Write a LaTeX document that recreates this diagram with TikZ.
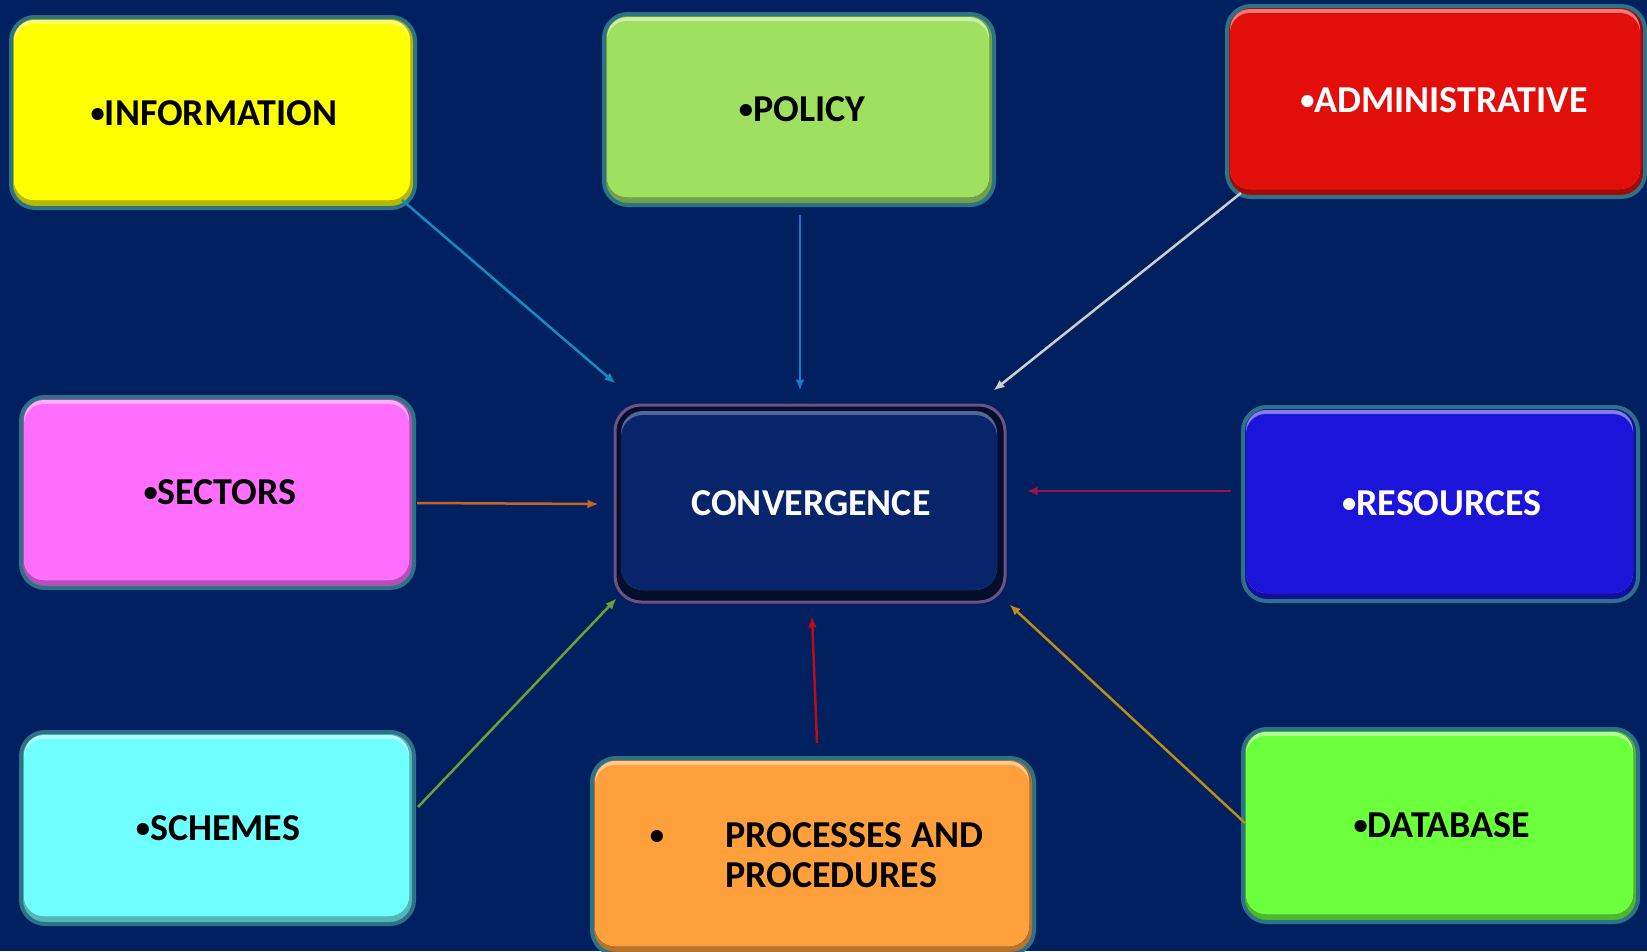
\documentclass[tikz,border=0pt]{standalone}
\usepackage{fontspec}
\usepackage{graphicx}
\setmainfont{Carlito}
\usetikzlibrary{arrows.meta,calc}
\newcommand\mybul{\raisebox{0.06em}{\scalebox{0.75}{•}}}
\definecolor{bg}{HTML}{002060}
\definecolor{rim}{RGB}{45,115,135}
\definecolor{convrim}{RGB}{110,80,130}
\definecolor{cinfo}{RGB}{255,255,0}
\definecolor{cpolicy}{RGB}{160,224,96}
\definecolor{cadmin}{RGB}{226,14,10}
\definecolor{csectors}{RGB}{255,110,255}
\definecolor{cconv}{RGB}{8,36,106}
\definecolor{cres}{RGB}{28,20,216}
\definecolor{cschemes}{RGB}{112,255,255}
\definecolor{cproc}{RGB}{255,160,60}
\definecolor{cdb}{RGB}{108,255,60}
\definecolor{a1}{RGB}{20,140,190}
\definecolor{a2}{RGB}{30,120,200}
\definecolor{a3}{RGB}{205,205,205}
\definecolor{a4}{RGB}{200,100,30}
\definecolor{a5}{RGB}{150,20,70}
\definecolor{a6}{RGB}{110,160,50}
\definecolor{a7}{RGB}{190,10,20}
\definecolor{a8}{RGB}{190,140,20}
\begin{document}
\begin{tikzpicture}[x=1pt,y=-1pt,
  box/.style={rounded corners=24pt, draw=rim, line width=4pt, fill=#1!72!black, inner sep=0pt,
    path picture={
      \fill[#1!55!white, rounded corners=20pt] ($(path picture bounding box.north west)+(3,3)$) rectangle ($(path picture bounding box.south east)+(-5,-8)$);
      \fill[#1, rounded corners=20pt] ($(path picture bounding box.north west)+(3,7)$) rectangle ($(path picture bounding box.south east)+(-5,-8)$);
    }},
  convbox/.style={rounded corners=26pt, draw=convrim, line width=3pt, fill=black!60!cconv, inner sep=0pt,
    path picture={
      \fill[cconv!70!white, rounded corners=22pt] ($(path picture bounding box.north west)+(6,6)$) rectangle ($(path picture bounding box.south east)+(-8,-12)$);
      \fill[cconv, rounded corners=22pt] ($(path picture bounding box.north west)+(6,10)$) rectangle ($(path picture bounding box.south east)+(-8,-12)$);
    }},
  lbl/.style={font=\fontsize{38}{40}\selectfont\bfseries, anchor=base, inner sep=0pt},
  arr/.style={draw=#1, line width=2.5pt, -{Latex[length=11pt,width=9pt]}}
]
\fill[bg] (0,0) rectangle (1647,951);
\useasboundingbox (0,0) rectangle (1647,951);

% boxes
\node[box=cinfo, minimum width=404pt, minimum height=191pt] (info) at (213,112.5) {};
\node[box=cpolicy, minimum width=390pt, minimum height=191pt] (policy) at (799,109.5) {};
\node[box=cadmin, minimum width=418pt, minimum height=191pt] (admin) at (1436,101.5) {};
\node[box=csectors, minimum width=393pt, minimum height=191pt] (sectors) at (217.5,492.5) {};
\node[convbox, minimum width=390pt, minimum height=197pt] (conv) at (810,503.5) {};
\node[box=cres, minimum width=395pt, minimum height=194pt] (res) at (1440.5,504) {};
\node[box=cschemes, minimum width=393pt, minimum height=192pt] (schemes) at (217.5,828) {};
\node[box=cproc, minimum width=442pt, minimum height=196pt] (proc) at (813,856) {};
\node[box=cdb, minimum width=395pt, minimum height=193pt] (db) at (1440.5,825.5) {};

% labels
\node[lbl, text=black] (tinfo) at (214,125) {\mybul INFORMATION};
\node[lbl, text=black] (tpolicy) at (802,121) {\mybul POLICY};
\node[lbl, text=white] (tadmin) at (1444,112) {\mybul ADMINISTRATIVE};
\node[lbl, text=black] (tsectors) at (220,504) {\mybul SECTORS};
\node[lbl, text=white] (tconv) at (811,515) {CONVERGENCE};
\node[lbl, text=white] (tres) at (1442,515) {\mybul RESOURCES};
\node[lbl, text=black] (tschemes) at (218,840) {\mybul SCHEMES};
\node[lbl, text=black] (tdb) at (1442,837) {\mybul DATABASE};
\node[lbl, text=black] (tbullet) at (657,847) {\mybul};
\node[lbl, text=black, anchor=base west] (tproc1) at (725,847) {PROCESSES AND};
\node[lbl, text=black, anchor=base west] (tproc2) at (725,887) {PROCEDURES};

% connectors
\draw[arr=a1] ($(info.south east)+(-15,-10)$) -- ($(conv.north west)+(2,-20)$);
\draw[arr=a2] ($(policy.south)+(1,8)$) -- ($(conv.north)+(-10,-13)$);
\draw[arr=a3] ($(admin.south west)+(16,-6)$) -- ($(conv.north east)+(-13,-13)$);
\draw[arr=a4] ($(sectors.east)+(1,10.5)$) -- ($(conv.west)+(-15,0.5)$);
\draw[arr=a5] ($(res.west)+(-10,-13)$) -- ($(conv.east)+(20,-12.5)$);
\draw[arr=a6] ($(schemes.east)+(2,-21)$) -- ($(conv.south west)+(3,-5)$);
\draw[arr=a7] ($(proc.north)+(4,-13)$) -- ($(conv.south)+(2,13)$);
\draw[arr=a8] ($(db.west)+(4,-2.5)$) -- ($(conv.south east)+(3,1)$);
\end{tikzpicture}
\end{document}
